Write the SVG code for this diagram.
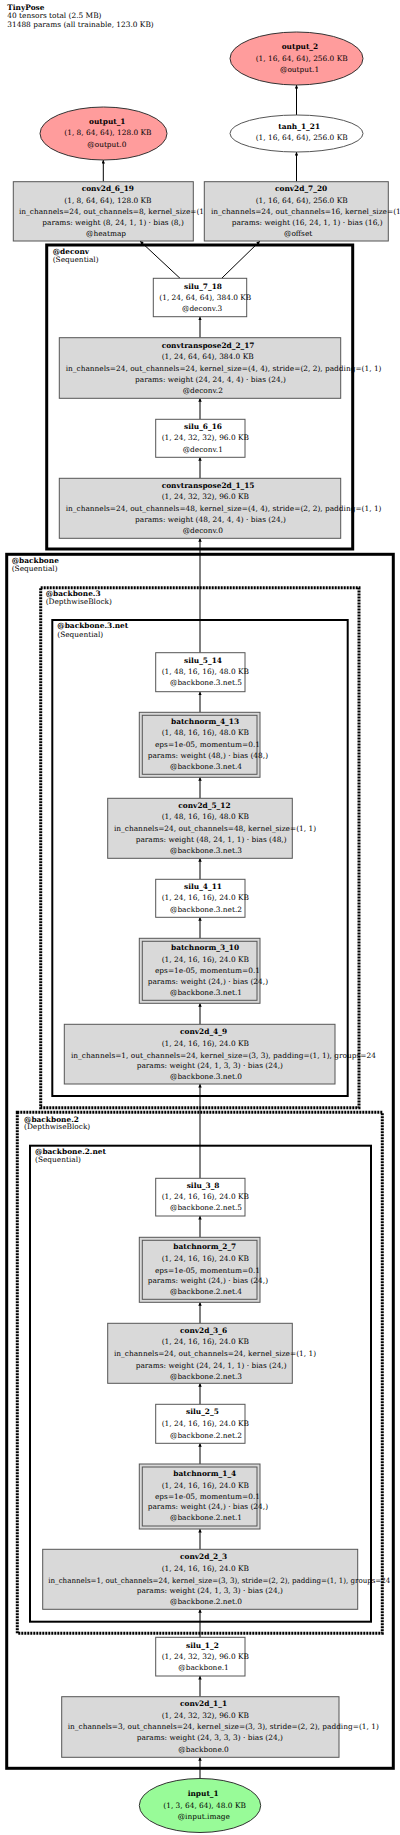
<svg xmlns="http://www.w3.org/2000/svg" width="400" height="1835" viewBox="0 0 400 1835">
<style>
text{font-family:"DejaVu Serif","Liberation Serif",serif;font-size:7.4px;fill:#000}
.b{font-weight:bold}
.box{fill:#d9d9d9;stroke:#555;stroke-width:1}
.wb{fill:#fff;stroke:#555;stroke-width:1}
.bi{fill:none;stroke:#555;stroke-width:1}
.cl{fill:none;stroke:#000;stroke-width:3}
.cn{fill:none;stroke:#000;stroke-width:2}
.dt{fill:none;stroke:#000;stroke-width:3;stroke-dasharray:2 1}
.out{fill:#ff9c9c;stroke:#333;stroke-width:1}
.inp{fill:#98fb98;stroke:#333;stroke-width:1}
.e{stroke:#000;stroke-width:1;fill:none;marker-end:url(#ah)}
</style>
<defs>
<marker id="ah" viewBox="0 0 10 10" refX="10" refY="5" markerWidth="4" markerHeight="3.5" orient="auto" markerUnits="userSpaceOnUse"><path d="M0,0 L10,5 L0,10 z" fill="#000"/></marker>
</defs>
<rect width="400" height="1835" fill="#fff"/>
<g id="title">
<text x="7.3" y="10" class="b">TinyPose</text>
<text x="7.3" y="18.4">40 tensors total (2.5 MB)</text>
<text x="7.3" y="27">31488 params (all trainable, 123.0 KB)</text>
</g>
<g id="clusters">
<g id="cl_deconv"><rect class="cl" x="46.7" y="245" width="306" height="304"/>
<text x="52.7" y="253.7" class="b">@deconv</text><text x="52.7" y="262">(Sequential)</text></g>
<g id="cl_backbone"><rect class="cl" x="6.7" y="554.3" width="386.6" height="1214"/>
<text x="11.7" y="562.7" class="b">@backbone</text><text x="11.7" y="571">(Sequential)</text></g>
<g id="cl_backbone3"><rect class="dt" x="40.7" y="587.7" width="318.3" height="520"/>
<text x="45.7" y="596" class="b">@backbone.3</text><text x="45.7" y="603.7">(DepthwiseBlock)</text></g>
<g id="cl_backbone3net"><rect class="cn" x="52.3" y="620" width="295.4" height="476"/>
<text x="57.3" y="628.4" class="b">@backbone.3.net</text><text x="57.3" y="636.7">(Sequential)</text></g>
<g id="cl_backbone2"><rect class="dt" x="17.3" y="1112.3" width="365" height="521"/>
<text x="24" y="1122" class="b">@backbone.2</text><text x="24" y="1129.4">(DepthwiseBlock)</text></g>
<g id="cl_backbone2net"><rect class="cn" x="30" y="1145.7" width="341" height="476"/>
<text x="35" y="1153.7" class="b">@backbone.2.net</text><text x="35" y="1161.7">(Sequential)</text></g>
</g>
<g id="edges">
<line class="e" x1="200" y1="1778.5" x2="200" y2="1757.3"/>
<line class="e" x1="200" y1="1696.7" x2="200" y2="1676"/>
<line class="e" x1="200" y1="1637.3" x2="200" y2="1609.3"/>
<line class="e" x1="200" y1="1549.3" x2="200" y2="1529"/>
<line class="e" x1="200" y1="1464" x2="200" y2="1443.3"/>
<line class="e" x1="200" y1="1404.3" x2="200" y2="1383.3"/>
<line class="e" x1="200" y1="1323.3" x2="200" y2="1302.3"/>
<line class="e" x1="200" y1="1237.3" x2="200" y2="1216"/>
<line class="e" x1="200" y1="1178.3" x2="200" y2="1084"/>
<line class="e" x1="200" y1="1024.3" x2="200" y2="1003.3"/>
<line class="e" x1="200" y1="938.3" x2="200" y2="917.3"/>
<line class="e" x1="200" y1="879.3" x2="200" y2="858.3"/>
<line class="e" x1="200" y1="798.3" x2="200" y2="777.3"/>
<line class="e" x1="200" y1="712.3" x2="200" y2="691.7"/>
<line class="e" x1="200" y1="652.7" x2="200" y2="538.3"/>
<line class="e" x1="200" y1="478.3" x2="200" y2="457.3"/>
<line class="e" x1="200" y1="419.3" x2="200" y2="398.3"/>
<line class="e" x1="200" y1="337.7" x2="200" y2="316.7"/>
<line class="e" x1="180" y1="278.3" x2="140" y2="241"/>
<line class="e" x1="221.7" y1="278.3" x2="260" y2="241"/>
<line class="e" x1="103.3" y1="181.7" x2="103.3" y2="160"/>
<line class="e" x1="296.5" y1="181.7" x2="296.5" y2="152"/>
<line class="e" x1="296.5" y1="115" x2="296.5" y2="85"/>
</g>
<g id="output_2"><ellipse class="out" cx="296.5" cy="58.5" rx="66.5" ry="26.5"/>
<text x="281.7" y="49.4" class="b">output_2</text><text x="255.7" y="60.7">(1, 16, 64, 64), 256.0 KB</text><text x="280" y="72">@output.1</text></g>
<g id="output_1"><ellipse class="out" cx="103.5" cy="133.5" rx="63.5" ry="26.5"/>
<text x="89" y="124.4" class="b">output_1</text><text x="64.3" y="135.4">(1, 8, 64, 64), 128.0 KB</text><text x="87.3" y="147">@output.0</text></g>
<g id="tanh_1_21"><ellipse class="wb" cx="296.5" cy="133.5" rx="66.5" ry="18.5"/>
<text x="278.3" y="129.4" class="b">tanh_1_21</text><text x="255.7" y="140.4">(1, 16, 64, 64), 256.0 KB</text></g>
<g id="conv2d_6_19"><rect class="box" x="13.3" y="181.7" width="180" height="59.3"/>
<text x="81.7" y="191" class="b">conv2d_6_19</text><text x="64.3" y="202.7">(1, 8, 64, 64), 128.0 KB</text><text x="19" y="214.4">in_channels=24, out_channels=8, kernel_size=(1, 1)</text><text x="42.3" y="225.4">params: weight (8, 24, 1, 1) · bias (8,)</text><text x="86" y="236">@heatmap</text></g>
<g id="conv2d_7_20"><rect class="box" x="204.3" y="181.7" width="184" height="59.3"/>
<text x="275" y="191" class="b">conv2d_7_20</text><text x="255.7" y="202.7">(1, 16, 64, 64), 256.0 KB</text><text x="211" y="214.4">in_channels=24, out_channels=16, kernel_size=(1, 1)</text><text x="231.7" y="225.4">params: weight (16, 24, 1, 1) · bias (16,)</text><text x="284" y="236">@offset</text></g>
<g id="silu_7_18"><rect class="wb" x="153.3" y="278.3" width="93.4" height="38.4"/>
<text x="184" y="288.7" class="b">silu_7_18</text><text x="159.3" y="299.7">(1, 24, 64, 64), 384.0 KB</text><text x="182" y="311">@deconv.3</text></g>
<g id="convtranspose2d_2_17"><rect class="box" x="59.3" y="337.7" width="281.4" height="60.6"/>
<text x="161.7" y="347.7" class="b">convtranspose2d_2_17</text><text x="161.7" y="359.4">(1, 24, 64, 64), 384.0 KB</text><text x="65.7" y="370.7">in_channels=24, out_channels=24, kernel_size=(4, 4), stride=(2, 2), padding=(1, 1)</text><text x="135" y="381.7">params: weight (24, 24, 4, 4) · bias (24,)</text><text x="182.7" y="392.7">@deconv.2</text></g>
<g id="silu_6_16"><rect class="wb" x="155.7" y="419.3" width="89.3" height="38"/>
<text x="184" y="429.4" class="b">silu_6_16</text><text x="161.7" y="440.4">(1, 24, 32, 32), 96.0 KB</text><text x="182.7" y="451.7">@deconv.1</text></g>
<g id="convtranspose2d_1_15"><rect class="box" x="59.3" y="478.3" width="281.4" height="60"/>
<text x="161.7" y="487.7" class="b">convtranspose2d_1_15</text><text x="161.7" y="499.4">(1, 24, 32, 32), 96.0 KB</text><text x="65.7" y="511">in_channels=24, out_channels=48, kernel_size=(4, 4), stride=(2, 2), padding=(1, 1)</text><text x="135" y="522">params: weight (48, 24, 4, 4) · bias (24,)</text><text x="182.7" y="533.4">@deconv.0</text></g>
<g id="silu_5_14"><rect class="wb" x="155.7" y="652.7" width="89.3" height="39"/>
<text x="184" y="663" class="b">silu_5_14</text><text x="161.7" y="674.4">(1, 48, 16, 16), 48.0 KB</text><text x="170" y="685.4">@backbone.3.net.5</text></g>
<g id="batchnorm_4_13"><rect class="box" x="139.3" y="712.3" width="120.7" height="65"/><rect class="bi" x="142.3" y="715.3" width="114.7" height="59"/>
<text x="171" y="723.7" class="b">batchnorm_4_13</text><text x="161.7" y="735.2">(1, 48, 16, 16), 48.0 KB</text><text x="155" y="746.7">eps=1e-05, momentum=0.1</text><text x="147.7" y="757.9">params: weight (48,) · bias (48,)</text><text x="170" y="769.4">@backbone.3.net.4</text></g>
<g id="conv2d_5_12"><rect class="box" x="107.7" y="798.3" width="184.6" height="60"/>
<text x="178.3" y="807.7" class="b">conv2d_5_12</text><text x="161.7" y="819.4">(1, 48, 16, 16), 48.0 KB</text><text x="114" y="831">in_channels=24, out_channels=48, kernel_size=(1, 1)</text><text x="135.7" y="842">params: weight (48, 24, 1, 1) · bias (48,)</text><text x="170" y="852.7">@backbone.3.net.3</text></g>
<g id="silu_4_11"><rect class="wb" x="155.7" y="879.3" width="89.3" height="38"/>
<text x="184" y="889.4" class="b">silu_4_11</text><text x="161.7" y="900.4">(1, 24, 16, 16), 24.0 KB</text><text x="170" y="912">@backbone.3.net.2</text></g>
<g id="batchnorm_3_10"><rect class="box" x="139.3" y="938.3" width="120.7" height="65"/><rect class="bi" x="142.3" y="941.3" width="114.7" height="59"/>
<text x="171" y="950" class="b">batchnorm_3_10</text><text x="161.7" y="962">(1, 24, 16, 16), 24.0 KB</text><text x="155" y="973.4">eps=1e-05, momentum=0.1</text><text x="147.7" y="984.4">params: weight (24,) · bias (24,)</text><text x="170" y="995.4">@backbone.3.net.1</text></g>
<g id="conv2d_4_9"><rect class="box" x="64.3" y="1024.3" width="270.7" height="59.7"/>
<text x="180" y="1033.7" class="b">conv2d_4_9</text><text x="161.7" y="1046">(1, 24, 16, 16), 24.0 KB</text><text x="71" y="1057.7">in_channels=1, out_channels=24, kernel_size=(3, 3), padding=(1, 1), groups=24</text><text x="136.7" y="1068.4">params: weight (24, 1, 3, 3) · bias (24,)</text><text x="170" y="1079.4">@backbone.3.net.0</text></g>
<g id="silu_3_8"><rect class="wb" x="155.7" y="1178.3" width="89.3" height="37.7"/>
<text x="186.7" y="1188.4" class="b">silu_3_8</text><text x="161.7" y="1199.4">(1, 24, 16, 16), 24.0 KB</text><text x="170" y="1210.4">@backbone.2.net.5</text></g>
<g id="batchnorm_2_7"><rect class="box" x="139.3" y="1237.3" width="120.7" height="65"/><rect class="bi" x="142.3" y="1240.3" width="114.7" height="59"/>
<text x="173.3" y="1248.7" class="b">batchnorm_2_7</text><text x="161.7" y="1261">(1, 24, 16, 16), 24.0 KB</text><text x="155" y="1272.7">eps=1e-05, momentum=0.1</text><text x="147.7" y="1283.4">params: weight (24,) · bias (24,)</text><text x="170" y="1294.4">@backbone.2.net.4</text></g>
<g id="conv2d_3_6"><rect class="box" x="107.7" y="1323.3" width="184.6" height="60"/>
<text x="180" y="1332.7" class="b">conv2d_3_6</text><text x="161.7" y="1344.4">(1, 24, 16, 16), 24.0 KB</text><text x="114" y="1356">in_channels=24, out_channels=24, kernel_size=(1, 1)</text><text x="135.7" y="1367.7">params: weight (24, 24, 1, 1) · bias (24,)</text><text x="170" y="1378.7">@backbone.2.net.3</text></g>
<g id="silu_2_5"><rect class="wb" x="155.7" y="1404.3" width="89.3" height="39"/>
<text x="186" y="1414.4" class="b">silu_2_5</text><text x="161.7" y="1426">(1, 24, 16, 16), 24.0 KB</text><text x="170" y="1437.7">@backbone.2.net.2</text></g>
<g id="batchnorm_1_4"><rect class="box" x="139.3" y="1464" width="120.7" height="65"/><rect class="bi" x="142.3" y="1467" width="114.7" height="59"/>
<text x="173.3" y="1476" class="b">batchnorm_1_4</text><text x="161.7" y="1487.7">(1, 24, 16, 16), 24.0 KB</text><text x="155" y="1498.7">eps=1e-05, momentum=0.1</text><text x="147.7" y="1509.4">params: weight (24,) · bias (24,)</text><text x="170" y="1520.4">@backbone.2.net.1</text></g>
<g id="conv2d_2_3"><rect class="box" x="42.7" y="1549.3" width="315" height="60"/>
<text x="180" y="1559.4" class="b">conv2d_2_3</text><text x="161.7" y="1571">(1, 24, 16, 16), 24.0 KB</text><text x="48.3" y="1582.7" textLength="342" lengthAdjust="spacingAndGlyphs">in_channels=1, out_channels=24, kernel_size=(3, 3), stride=(2, 2), padding=(1, 1), groups=24</text><text x="136.7" y="1593.4">params: weight (24, 1, 3, 3) · bias (24,)</text><text x="170" y="1604.4">@backbone.2.net.0</text></g>
<g id="silu_1_2"><rect class="wb" x="155.7" y="1637.3" width="89.3" height="38.7"/>
<text x="186" y="1647.7" class="b">silu_1_2</text><text x="161.7" y="1658.7">(1, 24, 32, 32), 96.0 KB</text><text x="178.3" y="1670.4">@backbone.1</text></g>
<g id="conv2d_1_1"><rect class="box" x="61.7" y="1696.7" width="277.3" height="60.6"/>
<text x="180" y="1706" class="b">conv2d_1_1</text><text x="161.7" y="1717.7">(1, 24, 32, 32), 96.0 KB</text><text x="67.7" y="1729.4">in_channels=3, out_channels=24, kernel_size=(3, 3), stride=(2, 2), padding=(1, 1)</text><text x="136.7" y="1740.4">params: weight (24, 3, 3, 3) · bias (24,)</text><text x="178.3" y="1751.7">@backbone.0</text></g>
<g id="input_1"><ellipse class="inp" cx="200" cy="1805.5" rx="60.7" ry="27"/>
<text x="187.7" y="1796" class="b">input_1</text><text x="163.3" y="1807.7">(1, 3, 64, 64), 48.0 KB</text><text x="177.7" y="1818.7">@input.image</text></g>
</svg>
